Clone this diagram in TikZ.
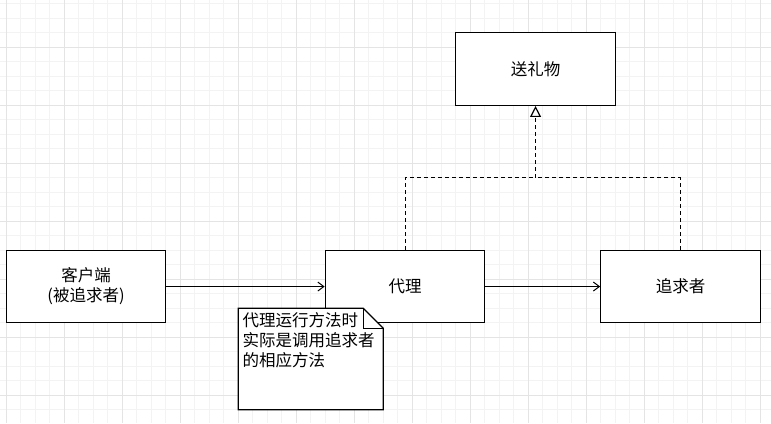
\documentclass[tikz,border=0pt]{standalone}
\usepackage{fontspec}
\newfontfamily\cjk{Noto Sans CJK SC}
\usetikzlibrary{arrows.meta}
\definecolor{gminor}{HTML}{F3F3F3}
\definecolor{gmajor}{HTML}{E4E4E4}
\tikzset{
  box/.style={draw=black, line width=1.3pt, fill=white, rectangle, minimum width=159.5pt, minimum height=72.5pt, inner sep=0pt, align=center, font=\cjk\fontsize{16.5}{20}\selectfont},
  conn/.style={line width=1pt, -{Straight Barb[length=6pt, width=9pt, line width=1pt]}},
  realize/.style={line width=1.1pt, dash pattern=on 4pt off 3pt},
  realtip/.style={line width=1.1pt, dash pattern=on 4pt off 3pt, -{Triangle[open, length=11pt, width=11pt, line width=1.2pt, sep=0pt]}},
  notebox/.style={draw=black, line width=1.3pt, fill=white},
  notetext/.style={anchor=north west, inner sep=0pt, align=left, font=\cjk\fontsize{16.5}{20}\selectfont},
  gridminor/.style={draw=gminor, line width=0.8pt},
  gridmajor/.style={draw=gmajor, line width=0.9pt}
}
\begin{document}
\begin{tikzpicture}[x=1pt, y=-1pt]
\useasboundingbox (0,0) rectangle (771,423);
\begin{scope}
\clip (0,0) rectangle (771,423);
\foreach \k in {0,...,52} { \draw[gridminor] ({6.3+14.5*\k},0) -- ({6.3+14.5*\k},423); }
\foreach \k in {0,...,28} { \draw[gridminor] (0,{3.8+14.5*\k}) -- (771,{3.8+14.5*\k}); }
\foreach \k in {0,...,13} { \draw[gridmajor] ({6.3+58*\k},0) -- ({6.3+58*\k},423); }
\foreach \k in {0,...,6} { \draw[gridmajor] (0,{47.3+58*\k}) -- (771,{47.3+58*\k}); }
\end{scope}

\node[box] (gift) at (535.55,69.05) {送礼物};
\node[box] (client) at (86.05,286.55) {客户端\\(被追求者)};
\node[box] (proxy) at (405.05,286.55) {代理};
\node[box] (seeker) at (680.55,286.55) {追求者};

\coordinate (j) at (535.55,177.8);
\draw[realize] (proxy.north) |- (j);
\draw[realtip] (seeker.north) |- (j) -- (gift.south);

\draw[conn] (client.east) -- (proxy.west);
\draw[conn] (proxy.east) -- (seeker.west);

\coordinate (n1) at (238.3,308.3);
\coordinate (n2) at (363.3,308.3);
\coordinate (n3) at (383.3,328.3);
\coordinate (n4) at (383.3,409.8);
\coordinate (n5) at (238.3,409.8);
\draw[notebox, line join=miter] (n1) -- (n2) -- (n3) -- (n4) -- (n5) -- cycle;
\draw[line width=1.3pt] (n2) -- (363.3,328.3) -- (n3);
\node[notetext] (note) at (242.3,312.3) {代理运行方法时\\实际是调用追求者\\的相应方法};
\end{tikzpicture}
\end{document}
